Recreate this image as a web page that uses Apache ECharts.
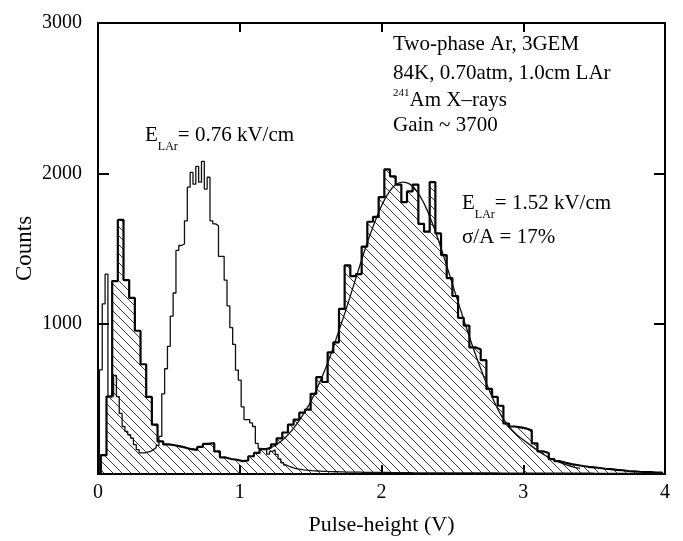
<!DOCTYPE html>
<html><head><meta charset="utf-8">
<script src="https://cdn.jsdelivr.net/npm/echarts@6/dist/echarts.min.js"></script>
<style>html,body{margin:0;padding:0;background:#fff}#c{width:683px;height:541px}</style>
</head><body><div id="c"></div>
<script>
// ---- data ----
// E_LAr = 0.76 kV/cm histogram (thin line): bins of 0.02 V starting at 0.01 V
const thinStart = 0.01;
const thinWidth = 0.02;
const thinCounts = [
  693,1132,1329,518,518,656,515,403,316,283,
  261,239,195,162,140,140,145,150,162,175,
  190,250,533,700,849,1050,1204,1487,1520,1530,
  1684,1908,2006,1928,2046,1941,2079,1895,1974,1684,
  1664,1651,1447,1447,1289,1118,974,862,691,625,
  447,362,362,340,316,204,171,164,164,132,
  150,160,130,100,75,60,50,44,38,34,
  31,28,26,24,22,21,20,19,18,17,
  16,16,15,15,14,14,13,13,13,12,
  12,12,11,11,11,11,10,10,10,10,
  10,10,9,9,9,9,9,9,9,9,
  8,8,8,8,8,8,8,8,8,8,
  8,8,8,8,7,7,7,7,7,7,
  7,7,7,7,7,7,7,7,7,7,
  6,6,6,6,6,6,6,6,6,6,
  6,6,6,6,6,6,5,5,5,5,
  5,5,5,5,5,5,5,5,5,5,
  5,5,5,5,4,4,4,4,4,4,
  4,4,4,4,4,4,4,4,4,4,
  4,4,3,3,3,3,3,3,3
];
// E_LAr = 1.52 kV/cm histogram (thick line, hatched): bins of 0.04 V starting at 0.02 V
const hatchStart = 0.02;
const hatchWidth = 0.04;
const hatchCounts = [
  125,515,1283,1690,1290,1171,953,730,513,329,
  217,197,191,184,175,165,160,180,200,205,
  150,110,100,95,86,90,118,140,165,175,
  197,237,276,329,362,408,428,533,645,612,
  809,875,1099,1388,1316,1330,1513,1678,1711,1842,
  2026,1980,1925,1809,1880,1925,1664,1612,1941,1600,
  1456,1303,1184,1039,987,842,830,757,566,513,
  454,336,316,310,303,290,204,151,140,99,
  85,75,66,60,53,48,44,40,35,33,
  28,25,20,18,15,13,12,10,9
];
// fitted curve
const fitX = [1.20,1.25,1.30,1.35,1.40,1.45,1.50,1.55,1.60,1.65,1.70,1.75,1.80,1.85,1.90,1.95,2.00,2.05,2.10,2.15,2.20,2.25,2.30,2.35,2.40,2.45,2.50,2.55,2.60,2.65,2.70,2.75,2.80,2.85,2.90,2.95,3.00,3.05,3.10,3.15,3.20,3.25,3.30,3.35,3.40];
const fitY = [165,190,225,270,330,400,480,580,690,815,955,1095,1245,1395,1540,1670,1785,1870,1925,1942,1928,1880,1800,1690,1560,1415,1265,1115,970,830,700,580,470,380,315,265,228,192,157,126,100,80,62,48,38];
// axes
const xTickLabels = ['0','1','2','3','4'];
const yTickLabels = ['', '1000', '2000', '3000'];

// ---- build ----
function histData(start, width, counts) {
  const d = [[start, 0]];
  counts.forEach((c, i) => d.push([+(start + i * width).toFixed(4), c]));
  d.push([+(start + counts.length * width).toFixed(4), 0]);
  return d;
}
const hatch = document.createElement('canvas');
hatch.width = 9; hatch.height = 9;
(function(){
  const g = hatch.getContext('2d');
  g.strokeStyle = '#222'; g.lineWidth = 0.9;
  g.beginPath();
  g.moveTo(-1,-1); g.lineTo(10,10);
  g.moveTo(-1,8); g.lineTo(1,10);
  g.moveTo(8,-1); g.lineTo(10,1);
  g.stroke();
})();

const serif = '"Liberation Serif","Times New Roman",serif';
const chart = echarts.init(document.getElementById('c'), null, {renderer: 'canvas'});
const axisLineStyle = {color: '#000', width: 2};
const baseX = {
  type: 'value', min: 0, max: 4, interval: 1,
  axisLine: {show: true, onZero: false, lineStyle: axisLineStyle},
  axisTick: {show: true, inside: true, length: 9, lineStyle: {color: '#000', width: 2}},
  splitLine: {show: false}
};
const baseY = {
  type: 'value', min: 0, max: 3000, interval: 1000,
  axisLine: {show: true, onZero: false, lineStyle: axisLineStyle},
  axisTick: {show: true, inside: true, length: 11, lineStyle: {color: '#000', width: 2}},
  splitLine: {show: false}
};
const txt = {fontFamily: serif, fill: '#000'};
const sub = {fontSize: 12, fontFamily: serif, fill: '#000', padding: [23, 0, 0, 0]};
const main = {fontSize: 21, fontFamily: serif, fill: '#000'};
const option = {
  animation: false,
  backgroundColor: '#fff',
  grid: {left: 98, right: 18, top: 23, bottom: 65},
  xAxis: [
    Object.assign({}, baseX, {
      position: 'bottom',
      axisLabel: {fontFamily: serif, fontSize: 20, color: '#000', margin: 9,
        formatter: v => xTickLabels[Math.round(v)]},
      name: 'Pulse-height (V)', nameLocation: 'middle', nameGap: 40, nameMoveOverlap: false,
      nameTextStyle: {fontFamily: serif, fontSize: 22, color: '#000'}
    }),
    Object.assign({}, baseX, {position: 'top', axisLabel: {show: false}})
  ],
  yAxis: [
    Object.assign({}, baseY, {
      position: 'left',
      axisLabel: {fontFamily: serif, fontSize: 20, color: '#000', margin: 16,
        formatter: v => yTickLabels[Math.round(v / 1000)]},
      name: 'Counts', nameLocation: 'middle', nameGap: 62, nameMoveOverlap: false,
      nameTextStyle: {fontFamily: serif, fontSize: 23, color: '#000'}
    }),
    Object.assign({}, baseY, {position: 'right', axisLabel: {show: false}})
  ],
  series: [
    {
      type: 'line', step: 'end', xAxisIndex: 0, yAxisIndex: 0,
      data: histData(hatchStart, hatchWidth, hatchCounts),
      symbol: 'none', lineStyle: {color: '#000', width: 2.2},
      areaStyle: {color: {image: hatch, repeat: 'repeat'}, opacity: 1},
      z: 2
    },
    {
      type: 'line', step: 'end', xAxisIndex: 0, yAxisIndex: 0,
      data: histData(thinStart, thinWidth, thinCounts),
      symbol: 'none', lineStyle: {color: '#111', width: 1.3},
      z: 3
    },
    {
      type: 'line', smooth: 0.3, xAxisIndex: 0, yAxisIndex: 0,
      data: fitX.map((x, i) => [x, fitY[i]]),
      symbol: 'none', lineStyle: {color: '#111', width: 1.3},
      z: 4
    }
  ],
  graphic: [
    {type: 'text', x: 393, y: 44, style: Object.assign({text: 'Two-phase Ar, 3GEM', fontSize: 21, verticalAlign: 'middle'}, txt)},
    {type: 'text', x: 393, y: 73, style: Object.assign({text: '84K, 0.70atm, 1.0cm LAr', fontSize: 21, verticalAlign: 'middle'}, txt)},
    {type: 'text', x: 393, y: 100, style: Object.assign({text: '{s|241}{n|Am X–rays}', verticalAlign: 'middle',
      rich: {s: {fontSize: 11, fontFamily: serif, fill: '#000', padding: [0, 0, 13, 0]}, n: main}}, txt)},
    {type: 'text', x: 393, y: 125, style: Object.assign({text: 'Gain ~ 3700', fontSize: 21, verticalAlign: 'middle'}, txt)},
    {type: 'text', x: 145, y: 135, style: Object.assign({text: '{n|E}{s|LAr}{n|= 0.76 kV/cm}', verticalAlign: 'middle',
      rich: {s: sub, n: main}}, txt)},
    {type: 'text', x: 462, y: 203, style: Object.assign({text: '{n|E}{s|LAr}{n|= 1.52 kV/cm}', verticalAlign: 'middle',
      rich: {s: sub, n: main}}, txt)},
    {type: 'text', x: 462, y: 237, style: Object.assign({text: 'σ/A = 17%', fontSize: 21, verticalAlign: 'middle'}, txt)}
  ]
};
chart.setOption(option);
</script>
</body></html>
